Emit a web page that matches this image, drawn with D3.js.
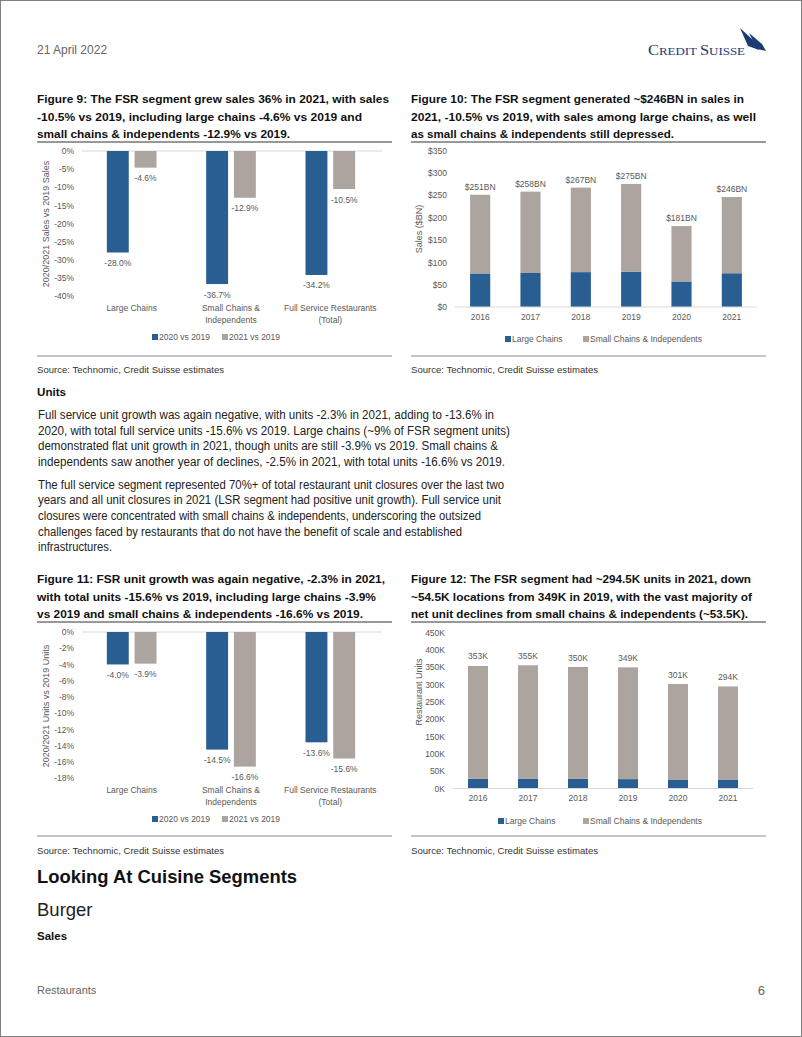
<!DOCTYPE html>
<html><head><meta charset="utf-8">
<script src="https://cdn.jsdelivr.net/npm/d3@7"></script>
<style>body{margin:0;background:#fff}svg{display:block;font-family:"Liberation Sans",Arial,Helvetica,sans-serif}</style>
</head><body>
<script>
// ---------- DATA ----------
const categories = ["Large Chains", "Small Chains & Independents", "Full Service Restaurants (Total)"];
const categoryLabelLines = [["Large Chains"], ["Small Chains &", "Independents"], ["Full Service Restaurants", "(Total)"]];
const compareSeries = ["2020 vs 2019", "2021 vs 2019"];
const sales2020vs2019 = [-28.0, -36.7, -34.2];
const sales2021vs2019 = [-4.6, -12.9, -10.5];
const salesPctTicks = [0, -5, -10, -15, -20, -25, -30, -35, -40];
const units2020vs2019 = [-4.0, -14.5, -13.6];
const units2021vs2019 = [-3.9, -16.6, -15.6];
const unitsPctTicks = [0, -2, -4, -6, -8, -10, -12, -14, -16, -18];

const years = ["2016", "2017", "2018", "2019", "2020", "2021"];
const segmentSeries = ["Large Chains", "Small Chains & Independents"];
const salesLargeChains = [75, 76, 78, 79, 57, 75.5];
const salesSmallChains = [176, 182, 189, 196, 124, 170.5];
const salesTotalLabels = ["$251BN", "$258BN", "$267BN", "$275BN", "$181BN", "$246BN"];
const salesTicks = [0, 50, 100, 150, 200, 250, 300, 350];
const unitsLargeChains = [28, 28, 28, 27, 26, 26];
const unitsSmallChains = [325, 327, 322, 322, 275, 268];
const unitsTotalLabels = ["353K", "355K", "350K", "349K", "301K", "294K"];
const unitsTicks = [0, 50, 100, 150, 200, 250, 300, 350, 400, 450];

const fig9Title = ["Figure 9: The FSR segment grew sales 36% in 2021, with sales",
  "-10.5% vs 2019, including large chains -4.6% vs 2019 and",
  "small chains & independents -12.9% vs 2019."];
const fig10Title = ["Figure 10: The FSR segment generated ~$246BN in sales in",
  "2021, -10.5% vs 2019, with sales among large chains, as well",
  "as small chains & independents still depressed."];
const fig11Title = ["Figure 11: FSR unit growth was again negative, -2.3% in 2021,",
  "with total units -15.6% vs 2019, including large chains -3.9%",
  "vs 2019 and small chains & independents -16.6% vs 2019."];
const fig12Title = ["Figure 12: The FSR segment had ~294.5K units in 2021, down",
  "~54.5K locations from 349K in 2019, with the vast majority of",
  "net unit declines from small chains & independents (~53.5K)."];
const para1 = ["Full service unit growth was again negative, with units -2.3% in 2021, adding to -13.6% in",
  "2020, with total full service units -15.6% vs 2019. Large chains (~9% of FSR segment units)",
  "demonstrated flat unit growth in 2021, though units are still -3.9% vs 2019. Small chains &",
  "independents saw another year of declines, -2.5% in 2021, with total units -16.6% vs 2019."];
const para2 = ["The full service segment represented 70%+ of total restaurant unit closures over the last two",
  "years and all unit closures in 2021 (LSR segment had positive unit growth). Full service unit",
  "closures were concentrated with small chains & independents, underscoring the outsized",
  "challenges faced by restaurants that do not have the benefit of scale and established",
  "infrastructures."];
const sourceText = "Source: Technomic, Credit Suisse estimates";

// ---------- STYLE / LAYOUT ----------
const BLUE = "#285e92", GRAY = "#aca49e", AXIS = "#595959";
const W = 802, H = 1037;
const svg = d3.select("body").append("svg").attr("width", W).attr("height", H);

svg.append("rect").attr("x", 0.5).attr("y", 0.5).attr("width", W - 1).attr("height", H - 1)
  .attr("fill", "#fff").attr("stroke", "#808080");

function txt(x, y, s, o = {}) {
  const t = svg.append("text").attr("x", x).attr("y", y).text(s)
    .attr("font-size", o.size || 12).attr("fill", o.fill || "#222")
    .attr("font-weight", o.weight || "normal").attr("text-anchor", o.anchor || "start");
  if (o.len) t.attr("textLength", o.len).attr("lengthAdjust", "spacingAndGlyphs");
  return t;
}

// header
txt(37, 54, "21 April 2022", {size: 12, fill: "#666"});
// logo
const logo = svg.append("text").attr("x", 648).attr("y", 55).attr("fill", "#1b3b72")
  .attr("font-family", "'Liberation Serif', serif").attr("textLength", 97).attr("lengthAdjust", "spacingAndGlyphs");
[["C", 14], ["REDIT ", 11], ["S", 14], ["UISSE", 11]].forEach(([s, f]) =>
  logo.append("tspan").attr("font-size", f).text(s));
svg.append("path").attr("d", "M740,28 L753,40 L759,50 L748,46 Z").attr("fill", "#1b3b72");
svg.append("path").attr("d", "M749,33 L762,44 L766,51 L757,49 Z").attr("fill", "#1b3b72");

// titles
function title(x, y0, lines, lens, w) {
  lines.forEach((l, i) => txt(x, y0 + i * 17.5, l, {size: 11.5, weight: "bold", fill: "#111", len: lens[i]}));
  svg.append("line").attr("x1", x).attr("x2", x + w).attr("y1", y0 + 39).attr("y2", y0 + 39)
    .attr("stroke", "#333").attr("stroke-width", 1);
}
title(37, 103, fig9Title, [352, 325, 253], 355);
title(411, 103, fig10Title, [333, 345, 263], 355);
title(37, 583, fig11Title, [348, 339, 326], 355);
title(411, 583, fig12Title, [340, 341, 337], 355);

// bottom rules + sources
[[37, 356, 372.5], [411, 356, 372.5], [37, 836, 853.5], [411, 836, 853.5]].forEach(([x, ly, sy]) => {
  svg.append("line").attr("x1", x).attr("x2", x + 355).attr("y1", ly).attr("y2", ly).attr("stroke", "#8a8a8a");
  txt(x, sy, sourceText, {size: 9.5, fill: "#333", len: 187});
});

// body text
txt(37, 396, "Units", {size: 11.5, weight: "bold", fill: "#111", len: 29});
const p1Len = [456, 472, 460, 467];
para1.forEach((l, i) => txt(38, 419 + i * 15.6, l, {size: 12, fill: "#222", len: p1Len[i]}));
const p2Len = [466, 463, 443, 424, 74];
para2.forEach((l, i) => txt(38, 488.5 + i * 15.7, l, {size: 12, fill: "#222", len: p2Len[i]}));

txt(37, 883, "Looking At Cuisine Segments", {size: 19, weight: "bold", fill: "#111", len: 260});
txt(37, 915.5, "Burger", {size: 18.5, fill: "#222"});
txt(37, 939.5, "Sales", {size: 11.5, weight: "bold", fill: "#111"});
txt(37, 994, "Restaurants", {size: 11, fill: "#666"});
txt(765, 995, "6", {size: 13, fill: "#666", anchor: "end"});

// ---------- GROUPED CHART ----------
function grouped(cfg) {
  const g = svg.append("g");
  const x = d3.scaleBand().domain(categories).range([82, 380]).paddingInner(0.5).paddingOuter(0.25);
  const xs = d3.scaleBand().domain(compareSeries).range([0, x.bandwidth()]).paddingInner(0.21);
  const y = d3.scaleLinear().domain([cfg.ticks[cfg.ticks.length - 1], 0]).range([cfg.bottom, cfg.top]);
  const ax = g.append("g").attr("transform", "translate(82,0)")
    .call(d3.axisLeft(y).tickValues(cfg.ticks).tickSize(0).tickPadding(8).tickFormat(d => d + "%"));
  ax.select(".domain").remove();
  ax.selectAll("text").attr("font-size", 8.5).attr("fill", AXIS).attr("font-family", null);
  g.append("line").attr("x1", 82).attr("x2", 382).attr("y1", y(0)).attr("y2", y(0)).attr("stroke", "#d9d9d9");
  g.append("text").attr("transform", `translate(49,${cfg.titleY}) rotate(-90)`)
    .attr("text-anchor", "middle").attr("font-size", 9).attr("fill", AXIS).text(cfg.yTitle);
  const rows = categories.map((c, i) => ({c, vals: [cfg.v1[i], cfg.v2[i]]}));
  const grp = g.selectAll(".grp").data(rows).join("g").attr("transform", d => `translate(${x(d.c)},0)`);
  const cols = [BLUE, GRAY];
  grp.selectAll("rect").data(d => d.vals.map((v, k) => ({v, k}))).join("rect")
    .attr("x", d => xs(compareSeries[d.k])).attr("width", xs.bandwidth())
    .attr("y", y(0)).attr("height", d => y(d.v) - y(0)).attr("fill", d => cols[d.k]);
  grp.selectAll(".lbl").data(d => d.vals.map((v, k) => ({v, k}))).join("text")
    .attr("x", d => xs(compareSeries[d.k]) + xs.bandwidth() / 2).attr("y", d => y(d.v) + 13.5)
    .attr("text-anchor", "middle").attr("font-size", 8.5).attr("fill", AXIS).text(d => d.v.toFixed(1) + "%");
  categories.forEach((c, i) => categoryLabelLines[i].forEach((l, j) =>
    g.append("text").attr("x", x(c) + x.bandwidth() / 2).attr("y", cfg.bottom + 14.5 + j * 12)
      .attr("text-anchor", "middle").attr("font-size", 8.5).attr("fill", AXIS).text(l)));
  compareSeries.forEach((s, k) => {
    const lx = [152, 222][k];
    g.append("rect").attr("x", lx).attr("y", cfg.legendY - 3).attr("width", 6).attr("height", 6).attr("fill", cols[k]);
    g.append("text").attr("x", lx + 7).attr("y", cfg.legendY + 3).attr("font-size", 8.5).attr("fill", AXIS).text(s);
  });
}
grouped({v1: sales2020vs2019, v2: sales2021vs2019, ticks: salesPctTicks, top: 151, bottom: 296,
  yTitle: "2020/2021 Sales vs 2019 Sales", titleY: 224, legendY: 337});
grouped({v1: units2020vs2019, v2: units2021vs2019, ticks: unitsPctTicks, top: 632, bottom: 778,
  yTitle: "2020/2021 Units vs 2019 Units", titleY: 706, legendY: 819});

// ---------- STACKED CHART ----------
function stacked(cfg) {
  const g = svg.append("g");
  const x = d3.scaleBand().domain(years).range([cfg.left, cfg.right]).paddingInner(0.6).paddingOuter(0.3);
  const y = d3.scaleLinear().domain([0, cfg.ticks[cfg.ticks.length - 1]]).range([cfg.bottom, cfg.top]);
  const ax = g.append("g").attr("transform", `translate(${cfg.left},0)`)
    .call(d3.axisLeft(y).tickValues(cfg.ticks).tickSize(0).tickPadding(8).tickFormat(cfg.fmt));
  ax.select(".domain").remove();
  ax.selectAll("text").attr("font-size", 8.5).attr("fill", AXIS).attr("font-family", null);
  const table = years.map((yr, i) => ({year: yr, [segmentSeries[0]]: cfg.large[i], [segmentSeries[1]]: cfg.small[i]}));
  const series = d3.stack().keys(segmentSeries)(table);
  const cols = [BLUE, GRAY];
  series.forEach((s, k) => g.selectAll(null).data(s).join("rect")
    .attr("x", d => x(d.data.year)).attr("width", x.bandwidth())
    .attr("y", d => y(d[1])).attr("height", d => y(d[0]) - y(d[1])).attr("fill", cols[k]));
  g.append("line").attr("x1", cfg.left).attr("x2", cfg.right).attr("y1", cfg.bottom).attr("y2", cfg.bottom).attr("stroke", "#d9d9d9");
  const top = series[series.length - 1];
  g.selectAll(null).data(top).join("text")
    .attr("x", d => x(d.data.year) + x.bandwidth() / 2).attr("y", d => y(d[1]) - cfg.lblOff)
    .attr("text-anchor", "middle").attr("font-size", 8.5).attr("fill", AXIS).text((d, i) => cfg.labels[i]);
  g.selectAll(null).data(years).join("text")
    .attr("x", d => x(d) + x.bandwidth() / 2).attr("y", cfg.bottom + 12.5)
    .attr("text-anchor", "middle").attr("font-size", 8.5).attr("fill", AXIS).text(d => d);
  g.append("text").attr("transform", `translate(422,${cfg.titleY}) rotate(-90)`)
    .attr("text-anchor", "middle").attr("font-size", 9).attr("fill", AXIS).text(cfg.yTitle);
  segmentSeries.forEach((s, k) => {
    const lx = cfg.legendX[k];
    g.append("rect").attr("x", lx).attr("y", cfg.legendY - 3).attr("width", 6).attr("height", 6).attr("fill", cols[k]);
    g.append("text").attr("x", lx + 7).attr("y", cfg.legendY + 3).attr("font-size", 8.5).attr("fill", AXIS).text(s);
  });
}
stacked({large: salesLargeChains, small: salesSmallChains, labels: salesTotalLabels, ticks: salesTicks,
  fmt: d => "$" + d, left: 455, right: 757, top: 150.5, bottom: 307, lblOff: 5,
  yTitle: "Sales ($BN)", titleY: 229, legendY: 339, legendX: [505, 583]});
stacked({large: unitsLargeChains, small: unitsSmallChains, labels: unitsTotalLabels, ticks: unitsTicks,
  fmt: d => d + "K", left: 453, right: 753, top: 632.3, bottom: 788.5, lblOff: 6.5,
  yTitle: "Restaurant Units", titleY: 692, legendY: 821, legendX: [498, 583]});
</script>
</body></html>
